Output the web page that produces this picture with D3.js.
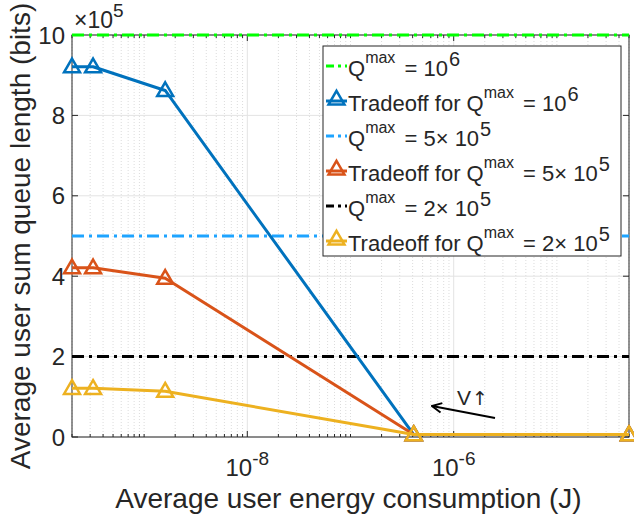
<!DOCTYPE html>
<html><head><meta charset="utf-8">
<script src="https://cdn.jsdelivr.net/npm/d3@7"></script>
<style>
html,body{margin:0;padding:0;background:#fff;}
text{font-family:"Liberation Sans",Arial,Helvetica,sans-serif;fill:#262626;}
</style></head>
<body>
<svg id="chart" width="634" height="519"></svg>
<script>
// ---- data ----
const energy = [2e-10, 3.2e-10, 1.6e-9, 4.1e-7, 5e-5];           // J
const tradeoff1e6 = [9.21e5, 9.21e5, 8.62e5, 0.06e5, 0.06e5];     // bits
const tradeoff5e5 = [4.21e5, 4.21e5, 3.95e5, 0.06e5, 0.06e5];
const tradeoff2e5 = [1.21e5, 1.21e5, 1.14e5, 0.06e5, 0.06e5];
const qmaxLevels = [1e6, 5e5, 2e5];
const yTicks = [0, 2e5, 4e5, 6e5, 8e5, 10e5];
const xMajorTicks = [1e-8, 1e-6];
const xLabelExp = ["-8", "-6"];

const colors = {q1:"#00ff00", t1:"#0072bd", q2:"#1ea4ff", t2:"#d95319", q3:"#000000", t3:"#edb120"};

const svg = d3.select("#chart");
const L = 72, R = 629, T = 35, B = 437;
const x = d3.scaleLog().domain([2e-10, 5e-5]).range([L, R]);
const y = d3.scaleLinear().domain([0, 1e6]).range([B, T]);

// minor x ticks
const minor = [];
for (let e = -10; e <= -5; e++) for (let m = 1; m <= 9; m++) {
  const v = m * Math.pow(10, e);
  if (v >= 2e-10 && v <= 5e-5 && !xMajorTicks.some(t => Math.abs(t - v) / v < 1e-6)) minor.push(v);
}
const g = svg.append("g");
// grid
g.selectAll(".xm").data(minor).enter().append("line")
  .attr("x1", d => x(d)).attr("x2", d => x(d)).attr("y1", T).attr("y2", B)
  .attr("stroke", "#dcdcdc").attr("stroke-width", 1).attr("stroke-dasharray", "1,2");
g.selectAll(".xM").data(xMajorTicks).enter().append("line")
  .attr("x1", d => x(d)).attr("x2", d => x(d)).attr("y1", T).attr("y2", B)
  .attr("stroke", "#e3e3e3").attr("stroke-width", 1);
g.selectAll(".yM").data(yTicks).enter().append("line")
  .attr("x1", L).attr("x2", R).attr("y1", d => y(d)).attr("y2", d => y(d))
  .attr("stroke", "#e3e3e3").attr("stroke-width", 1);

// axes frame
const axc = "#262626";
g.append("rect").attr("x", L).attr("y", T).attr("width", R - L).attr("height", B - T)
  .attr("fill", "none").attr("stroke", axc).attr("stroke-width", 1);
yTicks.forEach(v => {
  g.append("line").attr("x1", L).attr("x2", L + 6).attr("y1", y(v)).attr("y2", y(v)).attr("stroke", axc);
  g.append("line").attr("x1", R).attr("x2", R - 6).attr("y1", y(v)).attr("y2", y(v)).attr("stroke", axc);
});
minor.forEach(v => {
  g.append("line").attr("x1", x(v)).attr("x2", x(v)).attr("y1", B).attr("y2", B - 3).attr("stroke", axc);
  g.append("line").attr("x1", x(v)).attr("x2", x(v)).attr("y1", T).attr("y2", T + 3).attr("stroke", axc);
});
xMajorTicks.forEach(v => {
  g.append("line").attr("x1", x(v)).attr("x2", x(v)).attr("y1", B).attr("y2", B - 6).attr("stroke", axc);
  g.append("line").attr("x1", x(v)).attr("x2", x(v)).attr("y1", T).attr("y2", T + 6).attr("stroke", axc);
});

// tick labels
yTicks.forEach(v => {
  svg.append("text").attr("x", 65).attr("y", y(v)).attr("dy", "0.36em")
    .attr("text-anchor", "end").attr("font-size", 24).text(d3.format("d")(v / 1e5));
});
xMajorTicks.forEach((v, i) => {
  const t = svg.append("text").attr("x", x(v)).attr("y", 476).attr("text-anchor", "middle").attr("font-size", 24);
  t.append("tspan").text("10");
  t.append("tspan").attr("font-size", 19).attr("dy", -11).text(xLabelExp[i]);
});
const ex = svg.append("text").attr("x", 74).attr("y", 28).attr("font-size", 23);
ex.append("tspan").text("×10");
ex.append("tspan").attr("font-size", 19).attr("dy", -11).text("5");

// axis labels
svg.append("text").attr("x", (L + R) / 2 - 2).attr("y", 508).attr("text-anchor", "middle")
  .attr("font-size", 28).text("Average user energy consumption (J)");
svg.append("text").attr("transform", `translate(30,${(T + B) / 2}) rotate(-90)`)
  .attr("text-anchor", "middle").attr("font-size", 28).text("Average user sum queue length (bits)");

// horizontal Qmax lines
const hcol = [colors.q1, colors.q2, colors.q3];
qmaxLevels.forEach((q, i) => {
  svg.append("line").attr("x1", L).attr("x2", R).attr("y1", y(q)).attr("y2", y(q))
    .attr("stroke", hcol[i]).attr("stroke-width", 3).attr("stroke-dasharray", "12,5,3,5");
});

// tradeoff series
const tri = d3.symbol().type(d3.symbolTriangle).size(110);
const series = [[tradeoff1e6, colors.t1], [tradeoff5e5, colors.t2], [tradeoff2e5, colors.t3]];
const line = d3.line().x((d, i) => x(energy[i])).y(d => y(d));
series.forEach(([vals, c]) => {
  svg.append("path").datum(vals).attr("d", line).attr("fill", "none")
    .attr("stroke", c).attr("stroke-width", 3).attr("stroke-linejoin", "round");
  svg.selectAll(null).data(vals).enter().append("path")
    .attr("d", tri).attr("transform", (d, i) => `translate(${x(energy[i])},${y(d) + 1})`)
    .attr("fill", "none").attr("stroke", c).attr("stroke-width", 2.5);
});

// annotation arrow
svg.append("defs").append("marker").attr("id", "ah").attr("viewBox", "0 0 10 10")
  .attr("refX", 9).attr("refY", 5).attr("markerWidth", 6).attr("markerHeight", 6)
  .attr("markerUnits", "strokeWidth").attr("orient", "auto")
  .append("path").attr("d", "M1,1 L9,5 L1,9").attr("fill", "none").attr("stroke", "#000")
  .attr("stroke-width", 1.6).attr("stroke-linejoin", "miter");
svg.append("line").attr("x1", 495).attr("y1", 418).attr("x2", 432).attr("y2", 406)
  .attr("stroke", "#000").attr("stroke-width", 2).attr("marker-end", "url(#ah)");
svg.append("text").attr("x", 457).attr("y", 405).attr("font-size", 21).text("V");
svg.append("text").attr("x", 472).attr("y", 405).attr("font-size", 19).style("font-family", "DejaVu Sans").text("↑");

// legend
const lg = svg.append("g");
lg.append("rect").attr("x", 323).attr("y", 46).attr("width", 298).attr("height", 210)
  .attr("fill", "#fff").attr("stroke", "#262626").attr("stroke-width", 1);
const items = [
  {c: colors.q1, dash: true, pre: "Q", mid: " = 10", sup: "6"},
  {c: colors.t1, dash: false, pre: "Tradeoff for Q", mid: " = 10", sup: "6"},
  {c: colors.q2, dash: true, pre: "Q", mid: " = 5× 10", sup: "5"},
  {c: colors.t2, dash: false, pre: "Tradeoff for Q", mid: " = 5× 10", sup: "5"},
  {c: colors.q3, dash: true, pre: "Q", mid: " = 2× 10", sup: "5"},
  {c: colors.t3, dash: false, pre: "Tradeoff for Q", mid: " = 2× 10", sup: "5"},
];
items.forEach((it, i) => {
  const cy = 66 + i * 35;
  lg.append("line").attr("x1", 326).attr("x2", 347).attr("y1", cy).attr("y2", cy)
    .attr("stroke", it.c).attr("stroke-width", 3).attr("stroke-dasharray", it.dash ? "8,4,3,4" : null);
  if (!it.dash) lg.append("path").attr("d", tri).attr("transform", `translate(336.5,${cy - 1})`)
    .attr("fill", "none").attr("stroke", it.c).attr("stroke-width", 2.5);
  const t = lg.append("text").attr("x", 348).attr("y", cy + 10).attr("font-size", 22);
  t.append("tspan").text(it.pre);
  t.append("tspan").attr("font-size", 16).attr("dy", -13).text("max");
  t.append("tspan").attr("dy", 13).attr("dx", 3).text(it.mid);
  t.append("tspan").attr("font-size", 20).attr("dy", -10).attr("dx", 1).text(it.sup);
});
</script>
</body></html>
